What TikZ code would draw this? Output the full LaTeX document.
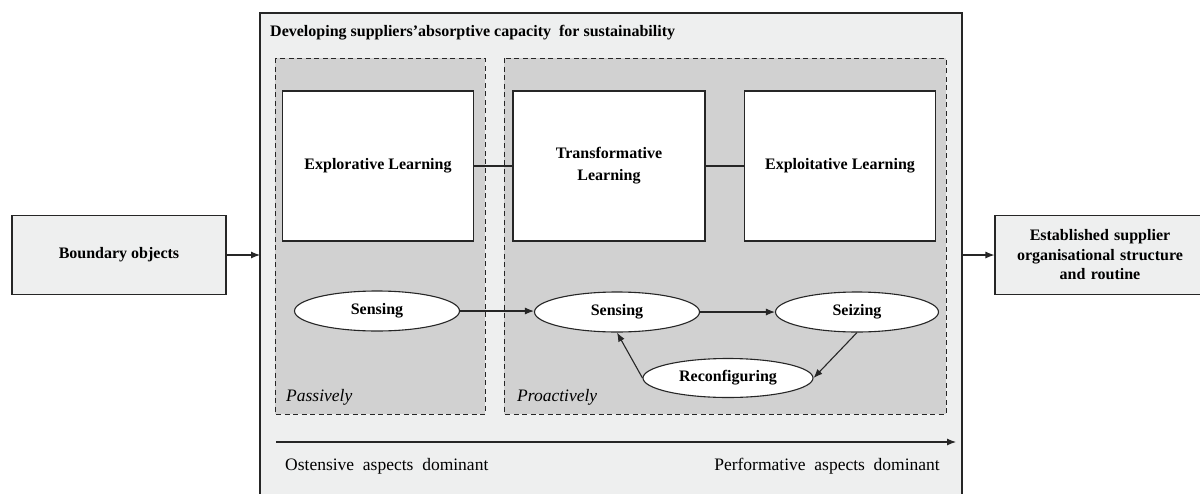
\documentclass[tikz,border=0pt]{standalone}
\usepackage{fontspec}
\setmainfont{Liberation Serif}
\usetikzlibrary{shapes.geometric,arrows.meta}
\definecolor{panel}{HTML}{EEEFEF}
\definecolor{zone}{HTML}{D1D1D1}
\tikzset{
  x=1pt, y=-1pt,
  outline/.style={draw=black!85, line width=1.1pt},
  sidebox/.style={outline, fill=panel, font=\bfseries\fontsize{16}{19.5}\selectfont, align=center, inner sep=0pt},
  zonebox/.style={draw=black!85, dashed, dash pattern=on 5pt off 3.5pt, line width=1pt, fill=zone},
  learnbox/.style={outline, fill=white, font=\bfseries\fontsize{16}{22}\selectfont, align=center, inner sep=0pt},
  phase/.style={ellipse, draw=black!85, line width=1.1pt, fill=white, minimum width=165pt, minimum height=40pt, inner sep=0pt, font=\bfseries\fontsize{16}{18}\selectfont},
  link/.style={draw=black!85, line width=1.1pt},
  flow/.style={link, -{Latex[length=9pt,width=7pt]}},
  note/.style={font=\fontsize{17.5}{20}\selectfont, inner sep=0pt},
}
\begin{document}
\begin{tikzpicture}
\useasboundingbox (0,0) rectangle (1200,493);

% outer panel, running past the lower edge
\path[outline, fill=panel] (260,13) rectangle (962,520);
\node[anchor=west, font=\bfseries\fontsize{16}{19}\selectfont, inner sep=0pt] (title) at (270,33)
  {Developing suppliers’absorptive capacity\ \ for sustainability};

% dashed zones
\path[zonebox] (275,58) rectangle (485,414);
\path[zonebox] (504,58) rectangle (946,414);

% learning boxes
\node[learnbox, minimum width=191pt, minimum height=150pt] (explo) at (378,166) {Explorative Learning};
\node[learnbox, minimum width=192pt, minimum height=150pt] (trans) at (609,166) {Transformative\\Learning};
\node[learnbox, minimum width=191pt, minimum height=150pt] (exploit) at (840,166) {Exploitative Learning};
\draw[link] (explo.east) -- (trans.west);
\draw[link] (trans.east) -- (exploit.west);

% capability cycle
\node[phase] (sense1) at (377,311) {Sensing};
\node[phase] (sense2) at (617,312) {Sensing};
\node[phase, minimum width=163pt] (seize) at (857,312) {Seizing};
\node[phase, minimum width=170pt, minimum height=39pt] (reconf) at (728,378) {Reconfiguring};
\draw[flow] (sense1.east) -- (sense1.east -| sense2.west);
\draw[flow] (sense2.east) -- (seize.west);
\draw[flow] (seize.south) -- (reconf.east);
\draw[flow] (reconf.west) -- (sense2.south);

\node[note, anchor=west, font=\itshape\fontsize{17.5}{20}\selectfont] (passive) at (286,397) {Passively};
\node[note, anchor=west, font=\itshape\fontsize{17.5}{20}\selectfont] (proactive) at (517,397) {Proactively};

% ostensive to performative axis
\coordinate (axisL) at (276,442);
\coordinate (axisR) at (956,442);
\draw[flow] (axisL) -- (axisR);
\node[note, anchor=west] (ost) at (285,466) {Ostensive\ \ aspects\ \ dominant};
\node[note, anchor=east] (perf) at (940,466) {Performative\ \ aspects\ \ dominant};

% input and output boxes
\node[sidebox, minimum width=214pt, minimum height=79pt] (bound) at (119,255) {Boundary objects};
\node[sidebox, minimum width=210pt, minimum height=79pt, text width=200pt] (estab) at (1100,255) {Established supplier\\organisational structure\\and routine};
\coordinate (panelW) at (260,255);
\coordinate (panelE) at (962,255);
\draw[flow] (bound.east) -- (panelW);
\draw[flow] (panelE) -- (estab.west);
\end{tikzpicture}
\end{document}
